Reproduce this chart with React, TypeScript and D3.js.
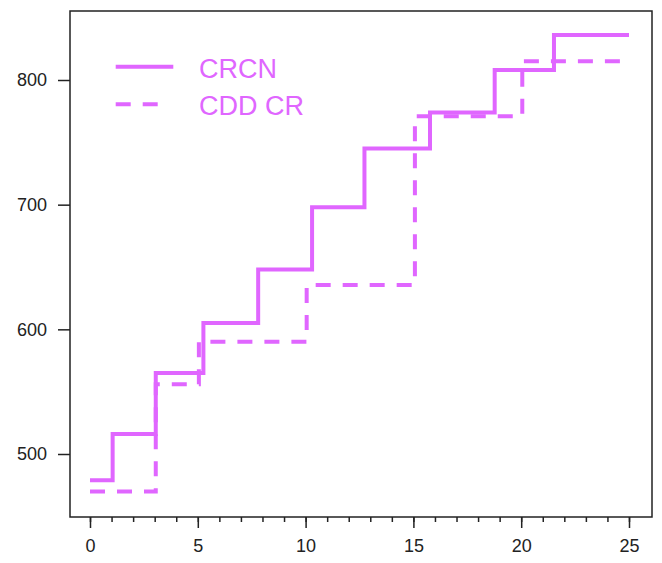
import React, { useRef, useEffect } from "react";
import * as d3 from "d3";

// step times (x) and levels (y) for each curve
const crcnTimes = [0, 1.05, 3.05, 5.26, 7.8, 10.3, 12.73, 15.77, 18.77, 21.52, 25];
const crcnValues = [479, 516, 565, 605, 648, 698, 745, 774, 808, 836, 836];

const cddTimes = [0, 3.05, 5.05, 10.05, 15.07, 20.05, 25];
const cddValues = [470, 556, 590, 635.5, 771, 815, 815];

const xTicks = [0, 5, 10, 15, 20, 25];
const xMinorTicks = d3.range(0, 26);
const yTicks = [500, 600, 700, 800];

const seriesNames = ["CRCN", "CDD CR"];

const App = () => {
  const svgRef = useRef(null);

  useEffect(() => {
    const width = 662;
    const height = 563;
    const color = "#E066FF";
    const axisColor = "#222";
    const font = "Arial, 'Liberation Sans', sans-serif";

    // plot frame
    const box = { left: 70, top: 11, right: 652, bottom: 517 };

    const svg = d3
      .select(svgRef.current)
      .attr("width", width)
      .attr("height", height);
    svg.selectAll("*").remove();

    // Scales
    const xScale = d3.scaleLinear().domain([0, 25]).range([90, 629]);
    const yScale = d3.scaleLinear().domain([500, 800]).range([454, 80]);

    // Frame
    svg
      .append("rect")
      .attr("x", box.left)
      .attr("y", box.top)
      .attr("width", box.right - box.left)
      .attr("height", box.bottom - box.top)
      .attr("fill", "none")
      .attr("stroke", axisColor)
      .attr("stroke-width", 1.5);

    // x axis: minor ticks every unit, labelled major every 5
    const xMinor = d3
      .axisBottom(xScale)
      .tickValues(xMinorTicks)
      .tickSize(5)
      .tickSizeOuter(0)
      .tickFormat(() => "");
    const xMinorGroup = svg
      .append("g")
      .attr("transform", `translate(0, ${box.bottom})`)
      .call(xMinor);
    xMinorGroup.select(".domain").remove();
    xMinorGroup.selectAll("line").attr("stroke", axisColor).attr("stroke-width", 1.5);

    const xMajor = d3
      .axisBottom(xScale)
      .tickValues(xTicks)
      .tickSize(11)
      .tickSizeOuter(0)
      .tickPadding(11)
      .tickFormat((d) => `${d}`);
    const xMajorGroup = svg
      .append("g")
      .attr("transform", `translate(0, ${box.bottom})`)
      .call(xMajor);
    xMajorGroup.select(".domain").remove();
    xMajorGroup.selectAll("line").attr("stroke", axisColor).attr("stroke-width", 1.5);
    xMajorGroup
      .selectAll("text")
      .attr("fill", axisColor)
      .style("font-family", font)
      .style("font-size", "18px");

    // y axis
    const yAxis = d3
      .axisLeft(yScale)
      .tickValues(yTicks)
      .tickSize(12)
      .tickSizeOuter(0)
      .tickPadding(11)
      .tickFormat((d) => `${d}`);
    const yGroup = svg
      .append("g")
      .attr("transform", `translate(${box.left}, 0)`)
      .call(yAxis);
    yGroup.select(".domain").remove();
    yGroup.selectAll("line").attr("stroke", axisColor).attr("stroke-width", 1.5);
    yGroup
      .selectAll("text")
      .attr("fill", axisColor)
      .style("font-family", font)
      .style("font-size", "18px");

    // Step lines
    const lineGenerator = d3
      .line()
      .x((d) => xScale(d[0]))
      .y((d) => yScale(d[1]))
      .curve(d3.curveStepAfter);

    const crcn = crcnTimes.map((t, i) => [t, crcnValues[i]]);
    const cdd = cddTimes.map((t, i) => [t, cddValues[i]]);

    svg
      .append("path")
      .datum(cdd)
      .attr("d", lineGenerator)
      .attr("fill", "none")
      .attr("stroke", color)
      .attr("stroke-width", 4)
      .attr("stroke-dasharray", "15,12");

    svg
      .append("path")
      .datum(crcn)
      .attr("d", lineGenerator)
      .attr("fill", "none")
      .attr("stroke", color)
      .attr("stroke-width", 4);

    // Legend
    const legend = svg.append("g");
    seriesNames.forEach((name, i) => {
      const y = 66.7 + i * 37.6;
      legend
        .append("line")
        .attr("x1", 115.7)
        .attr("x2", i === 1 ? 158 : 173.3)
        .attr("y1", y)
        .attr("y2", y)
        .attr("stroke", color)
        .attr("stroke-width", 4)
        .attr("stroke-dasharray", i === 1 ? "15,12" : null);
      legend
        .append("text")
        .attr("x", 199)
        .attr("y", y + 11)
        .attr("fill", color)
        .style("font-family", font)
        .style("font-size", "27px")
        .text(name);
    });
  }, []);

  return (
    <div style={{ position: "absolute", left: 0, top: 0 }}>
      <svg ref={svgRef} style={{ display: "block" }} />
    </div>
  );
};

export default App;
